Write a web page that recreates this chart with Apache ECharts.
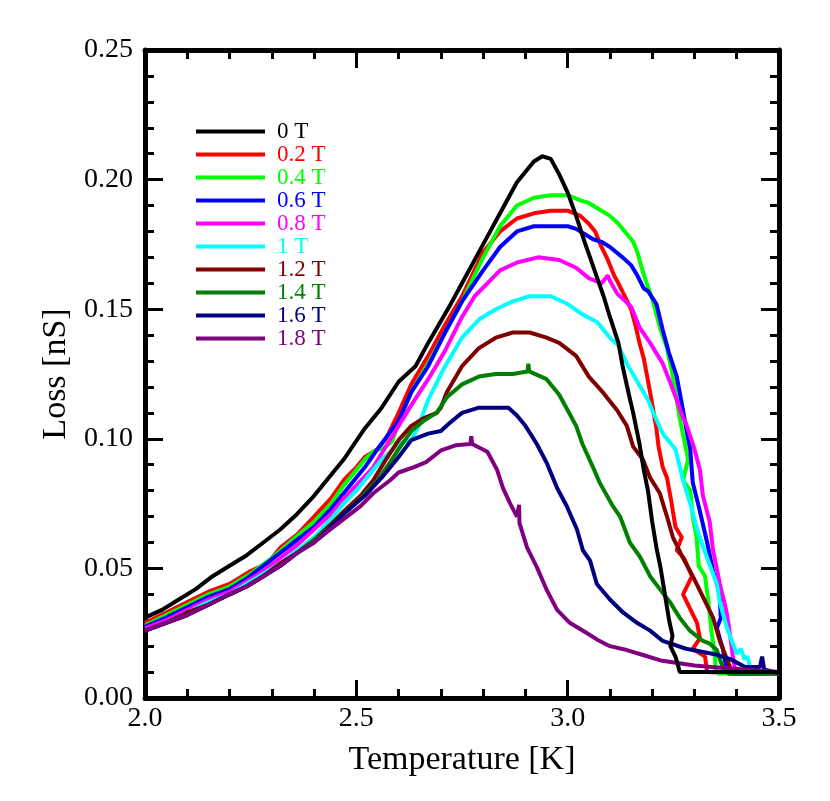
<!DOCTYPE html>
<html>
<head>
<meta charset="utf-8">
<script src="https://cdn.jsdelivr.net/npm/echarts@6/dist/echarts.min.js"></script>
<style>html,body{margin:0;padding:0;background:#fff;}#c{width:830px;height:801px;}</style>
</head>
<body>
<div id="c"></div>
<script>
const seriesNames = ['0 T','0.2 T','0.4 T','0.6 T','0.8 T','1 T','1.2 T','1.4 T','1.6 T','1.8 T'];
const seriesColors = ['#000000','#ff0000','#00ff00','#0000ff','#ff00ff','#00ffff','#800000','#008000','#000080','#800080'];
const xTicks = [2.0, 2.5, 3.0, 3.5];
const yTicks = [0.00, 0.05, 0.10, 0.15, 0.20, 0.25];

const d0T = [[2.00,0.031],[2.04,0.034],[2.08,0.038],[2.12,0.042],[2.16,0.047],[2.20,0.051],[2.24,0.055],[2.28,0.060],[2.32,0.065],[2.36,0.071],[2.40,0.078],[2.44,0.086],[2.47,0.092],[2.52,0.104],[2.56,0.112],[2.60,0.122],[2.62,0.125],[2.64,0.128],[2.67,0.137],[2.72,0.151],[2.75,0.160],[2.80,0.175],[2.84,0.187],[2.88,0.199],[2.92,0.207],[2.94,0.209],[2.96,0.208],[2.98,0.202],[3.00,0.195],[3.02,0.186],[3.04,0.176],[3.055,0.169],[3.07,0.162],[3.085,0.155],[3.10,0.147],[3.12,0.137],[3.13,0.128],[3.145,0.117],[3.155,0.110],[3.17,0.098],[3.18,0.088],[3.19,0.080],[3.20,0.068],[3.21,0.058],[3.22,0.050],[3.23,0.040],[3.24,0.030],[3.248,0.024],[3.243,0.020],[3.255,0.016],[3.262,0.012],[3.265,0.010],[3.30,0.010],[3.40,0.010],[3.50,0.010]];
const d02T = [[2.00,0.029],[2.05,0.033],[2.10,0.037],[2.15,0.041],[2.20,0.044],[2.25,0.049],[2.29,0.052],[2.32,0.058],[2.36,0.063],[2.40,0.070],[2.44,0.077],[2.47,0.084],[2.50,0.089],[2.52,0.093],[2.55,0.096],[2.57,0.100],[2.60,0.110],[2.63,0.121],[2.67,0.132],[2.71,0.144],[2.75,0.155],[2.80,0.172],[2.84,0.180],[2.88,0.185],[2.92,0.187],[2.96,0.188],[3.00,0.188],[3.03,0.186],[3.05,0.183],[3.065,0.180],[3.08,0.174],[3.095,0.169],[3.11,0.163],[3.12,0.160],[3.135,0.155],[3.15,0.150],[3.16,0.144],[3.17,0.137],[3.18,0.131],[3.195,0.118],[3.21,0.104],[3.215,0.097],[3.225,0.089],[3.235,0.085],[3.245,0.076],[3.255,0.066],[3.27,0.062],[3.258,0.057],[3.275,0.054],[3.294,0.047],[3.273,0.040],[3.306,0.029],[3.313,0.023],[3.296,0.019],[3.325,0.016],[3.33,0.010],[3.40,0.0095],[3.50,0.0095]];
const d04T = [[2.00,0.028],[2.05,0.032],[2.10,0.036],[2.15,0.040],[2.20,0.043],[2.25,0.048],[2.30,0.054],[2.35,0.061],[2.40,0.068],[2.44,0.075],[2.47,0.082],[2.50,0.088],[2.52,0.092],[2.54,0.095],[2.57,0.097],[2.585,0.099],[2.60,0.106],[2.63,0.118],[2.67,0.129],[2.71,0.141],[2.75,0.153],[2.80,0.170],[2.84,0.182],[2.88,0.190],[2.92,0.193],[2.96,0.194],[3.00,0.194],[3.03,0.192],[3.05,0.191],[3.08,0.188],[3.10,0.186],[3.12,0.183],[3.14,0.179],[3.155,0.176],[3.165,0.172],[3.175,0.166],[3.187,0.160],[3.20,0.154],[3.21,0.148],[3.22,0.142],[3.235,0.135],[3.25,0.123],[3.265,0.108],[3.28,0.096],[3.285,0.092],[3.273,0.084],[3.29,0.080],[3.296,0.070],[3.305,0.062],[3.31,0.051],[3.325,0.047],[3.333,0.037],[3.34,0.026],[3.348,0.017],[3.35,0.011],[3.355,0.0095],[3.40,0.0095],[3.50,0.0095]];
const d06T = [[2.00,0.0275],[2.05,0.031],[2.10,0.035],[2.15,0.039],[2.20,0.042],[2.24,0.046],[2.28,0.051],[2.32,0.056],[2.36,0.061],[2.40,0.066],[2.44,0.073],[2.47,0.079],[2.52,0.089],[2.55,0.096],[2.60,0.107],[2.63,0.118],[2.67,0.128],[2.71,0.141],[2.75,0.153],[2.80,0.165],[2.84,0.174],[2.88,0.180],[2.92,0.182],[2.96,0.182],[3.00,0.182],[3.02,0.181],[3.04,0.179],[3.06,0.177],[3.08,0.176],[3.10,0.174],[3.13,0.170],[3.15,0.167],[3.165,0.163],[3.18,0.158],[3.19,0.157],[3.21,0.152],[3.225,0.142],[3.24,0.133],[3.25,0.128],[3.258,0.124],[3.273,0.111],[3.285,0.100],[3.29,0.096],[3.296,0.083],[3.31,0.074],[3.33,0.060],[3.344,0.049],[3.36,0.040],[3.362,0.031],[3.37,0.034],[3.353,0.027],[3.367,0.019],[3.375,0.012],[3.38,0.0095],[3.50,0.0095]];
const d08T = [[2.00,0.027],[2.05,0.030],[2.10,0.034],[2.15,0.038],[2.20,0.041],[2.24,0.045],[2.28,0.049],[2.32,0.054],[2.36,0.059],[2.40,0.065],[2.44,0.071],[2.47,0.077],[2.50,0.082],[2.54,0.089],[2.57,0.097],[2.60,0.105],[2.63,0.113],[2.67,0.123],[2.71,0.134],[2.75,0.147],[2.78,0.155],[2.81,0.160],[2.84,0.165],[2.88,0.168],[2.93,0.170],[2.98,0.169],[3.02,0.166],[3.05,0.162],[3.08,0.160],[3.095,0.163],[3.10,0.161],[3.117,0.156],[3.15,0.151],[3.17,0.143],[3.195,0.137],[3.225,0.129],[3.242,0.122],[3.258,0.115],[3.273,0.108],[3.28,0.106],[3.30,0.096],[3.313,0.088],[3.32,0.078],[3.336,0.068],[3.344,0.057],[3.36,0.044],[3.375,0.034],[3.382,0.027],[3.39,0.017],[3.395,0.012],[3.40,0.0095],[3.50,0.0095]];
const d1T = [[2.00,0.026],[2.05,0.029],[2.10,0.033],[2.15,0.037],[2.20,0.040],[2.24,0.044],[2.28,0.048],[2.32,0.052],[2.36,0.057],[2.40,0.062],[2.44,0.069],[2.47,0.075],[2.50,0.080],[2.53,0.086],[2.56,0.092],[2.60,0.098],[2.615,0.099],[2.63,0.0995],[2.645,0.104],[2.67,0.115],[2.71,0.128],[2.75,0.139],[2.79,0.146],[2.83,0.150],[2.87,0.153],[2.91,0.155],[2.96,0.155],[3.00,0.152],[3.035,0.148],[3.07,0.145],[3.10,0.139],[3.12,0.136],[3.14,0.129],[3.165,0.122],[3.19,0.115],[3.20,0.111],[3.225,0.102],[3.255,0.096],[3.273,0.084],[3.29,0.075],[3.306,0.065],[3.33,0.054],[3.353,0.044],[3.36,0.037],[3.377,0.027],[3.40,0.017],[3.41,0.019],[3.418,0.015],[3.425,0.016],[3.432,0.012],[3.44,0.0095],[3.50,0.0095]];
const d12T = [[2.00,0.026],[2.05,0.029],[2.10,0.033],[2.15,0.036],[2.20,0.040],[2.24,0.043],[2.28,0.047],[2.32,0.052],[2.36,0.056],[2.40,0.061],[2.44,0.067],[2.47,0.072],[2.51,0.078],[2.54,0.084],[2.57,0.092],[2.60,0.0995],[2.63,0.105],[2.66,0.108],[2.69,0.110],[2.70,0.112],[2.714,0.118],[2.75,0.128],[2.79,0.135],[2.83,0.139],[2.87,0.141],[2.91,0.141],[2.95,0.139],[2.98,0.137],[3.02,0.132],[3.05,0.124],[3.083,0.118],[3.117,0.111],[3.14,0.105],[3.155,0.097],[3.178,0.092],[3.195,0.085],[3.218,0.079],[3.235,0.070],[3.249,0.062],[3.273,0.054],[3.296,0.047],[3.32,0.039],[3.344,0.031],[3.36,0.022],[3.377,0.015],[3.384,0.012],[3.39,0.0095],[3.50,0.0095]];
const d14T = [[2.00,0.026],[2.05,0.029],[2.10,0.032],[2.15,0.036],[2.20,0.040],[2.24,0.043],[2.28,0.047],[2.32,0.051],[2.36,0.056],[2.40,0.061],[2.44,0.066],[2.47,0.071],[2.51,0.077],[2.55,0.084],[2.58,0.091],[2.60,0.096],[2.63,0.103],[2.66,0.107],[2.69,0.110],[2.714,0.116],[2.75,0.121],[2.79,0.124],[2.83,0.125],[2.87,0.125],[2.905,0.126],[2.907,0.129],[2.909,0.126],[2.95,0.123],[2.98,0.117],[3.00,0.111],[3.02,0.105],[3.035,0.098],[3.06,0.089],[3.076,0.083],[3.107,0.074],[3.124,0.070],[3.147,0.060],[3.171,0.0545],[3.195,0.047],[3.218,0.042],[3.242,0.037],[3.265,0.031],[3.289,0.026],[3.32,0.022],[3.336,0.021],[3.353,0.0185],[3.36,0.015],[3.367,0.012],[3.38,0.0095],[3.50,0.0095]];
const d16T = [[2.00,0.026],[2.05,0.029],[2.10,0.032],[2.15,0.036],[2.20,0.040],[2.24,0.043],[2.28,0.047],[2.32,0.051],[2.36,0.056],[2.40,0.060],[2.44,0.066],[2.47,0.071],[2.52,0.078],[2.56,0.085],[2.60,0.093],[2.63,0.0995],[2.67,0.102],[2.70,0.103],[2.72,0.106],[2.75,0.110],[2.79,0.112],[2.83,0.112],[2.86,0.112],[2.88,0.109],[2.90,0.105],[2.927,0.098],[2.951,0.0905],[2.975,0.081],[2.998,0.074],[3.022,0.065],[3.036,0.057],[3.053,0.053],[3.069,0.044],[3.10,0.038],[3.131,0.033],[3.164,0.029],[3.195,0.026],[3.225,0.022],[3.28,0.019],[3.345,0.017],[3.385,0.015],[3.42,0.012],[3.455,0.012],[3.46,0.016],[3.465,0.011],[3.50,0.0095]];
const d18T = [[2.00,0.026],[2.05,0.029],[2.10,0.032],[2.15,0.036],[2.20,0.040],[2.24,0.043],[2.28,0.047],[2.32,0.051],[2.36,0.056],[2.40,0.060],[2.43,0.064],[2.47,0.069],[2.51,0.074],[2.54,0.079],[2.58,0.084],[2.60,0.087],[2.635,0.089],[2.665,0.091],[2.70,0.0955],[2.735,0.0975],[2.77,0.098],[2.772,0.101],[2.774,0.098],[2.81,0.095],[2.833,0.088],[2.847,0.081],[2.864,0.075],[2.88,0.070],[2.885,0.0745],[2.886,0.0675],[2.904,0.058],[2.927,0.0505],[2.951,0.0415],[2.975,0.034],[3.005,0.029],[3.046,0.025],[3.07,0.0225],[3.10,0.020],[3.14,0.0185],[3.18,0.0165],[3.22,0.0145],[3.26,0.0135],[3.30,0.0125],[3.34,0.012],[3.42,0.011],[3.50,0.010]];

const seriesData = [d0T, d02T, d04T, d06T, d08T, d1T, d12T, d14T, d16T, d18T];

const FONT = 'Liberation Serif';
const chart = echarts.init(document.getElementById('c'), null, {renderer: 'canvas'});

function mkX(pos, showLabel) {
  return {
    type: 'value', min: xTicks[0], max: xTicks[xTicks.length - 1], interval: 0.5, position: pos,
    axisLine: {show: true, onZero: false, lineStyle: {color: '#000', width: 5}},
    axisTick: {show: true, inside: true, length: 18, lineStyle: {color: '#000', width: 3}},
    minorTick: {show: true, splitNumber: 5, length: 9, lineStyle: {color: '#000', width: 3}},
    splitLine: {show: false}, minorSplitLine: {show: false},
    axisLabel: {show: showLabel, formatter: v => v.toFixed(1), fontFamily: FONT, fontSize: 28, color: '#000', margin: 7},
    name: showLabel ? 'Temperature [K]' : '', nameLocation: 'middle', nameGap: 45,
    nameTextStyle: {fontFamily: FONT, fontSize: 34, color: '#000'}
  };
}
function mkY(pos, showLabel) {
  return {
    type: 'value', min: yTicks[0], max: yTicks[yTicks.length - 1], interval: 0.05, position: pos,
    axisLine: {show: true, onZero: false, lineStyle: {color: '#000', width: 5}},
    axisTick: {show: true, inside: true, length: 18, lineStyle: {color: '#000', width: 3}},
    minorTick: {show: true, splitNumber: 5, length: 9, lineStyle: {color: '#000', width: 3}},
    splitLine: {show: false}, minorSplitLine: {show: false},
    axisLabel: {show: showLabel, formatter: v => v.toFixed(2), fontFamily: FONT, fontSize: 28, color: '#000', margin: 12},
    name: showLabel ? 'Loss [nS]' : '', nameLocation: 'middle', nameGap: 66, nameRotate: 90,
    nameTextStyle: {fontFamily: FONT, fontSize: 34, color: '#000'}
  };
}

const option = {
  animation: false,
  backgroundColor: '#fff',
  grid: {left: 145, right: 51, top: 50, bottom: 103, containLabel: false},
  xAxis: [mkX('bottom', true), mkX('top', false)],
  yAxis: [mkY('left', true), mkY('right', false)],
  legend: {
    orient: 'vertical', left: 196, top: 120, icon: 'rect', itemWidth: 69, itemHeight: 4, itemGap: 0, padding: 0,
    textStyle: {fontFamily: FONT, fontSize: 23, lineHeight: 23, padding: [0, 0, 0, 7]},
    data: seriesNames.map((n, i) => ({name: n, textStyle: {color: seriesColors[i]}}))
  },
  series: seriesNames.map((n, i) => ({
    name: n, type: 'line', xAxisIndex: 0, yAxisIndex: 0,
    data: seriesData[i], symbol: 'none', showSymbol: false, smooth: false,
    lineStyle: {color: seriesColors[i], width: 4}, itemStyle: {color: seriesColors[i]},
    z: i === 0 ? 5 : 3
  }))
};
chart.setOption(option);
</script>
</body>
</html>
